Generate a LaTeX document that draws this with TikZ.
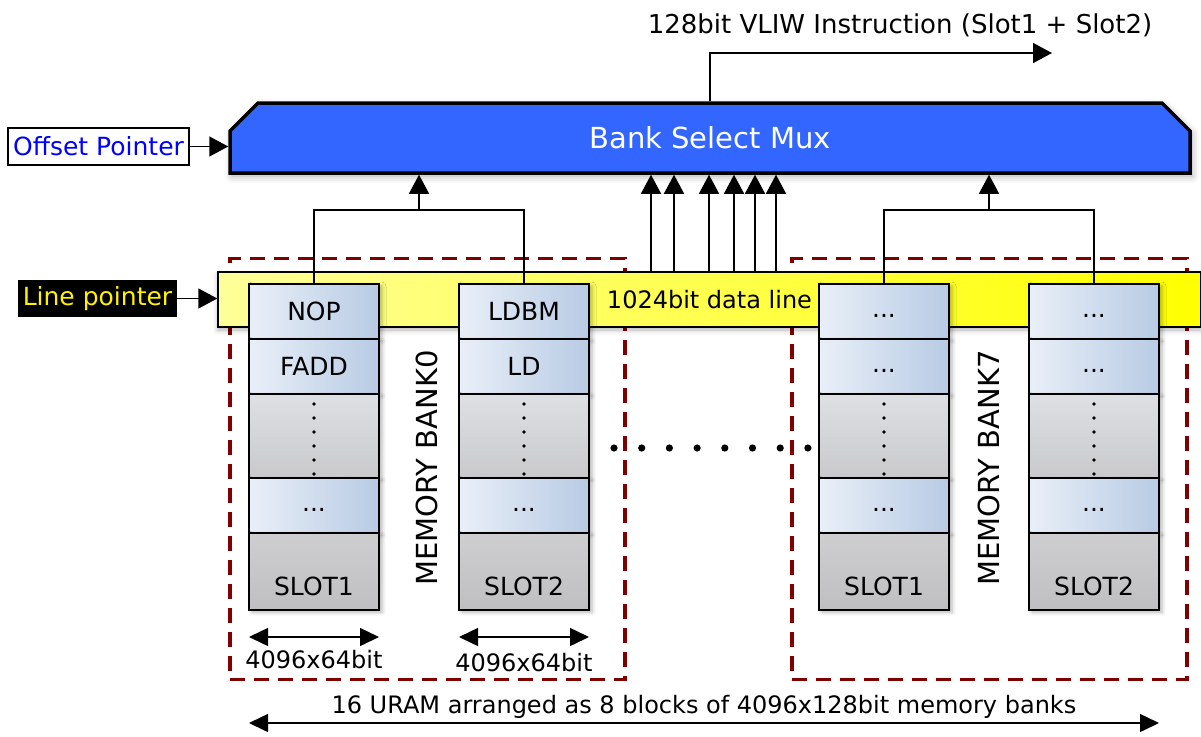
\documentclass[tikz,border=0pt]{standalone}
\usepackage{fontspec}
\setmainfont{DejaVu Sans}
\usetikzlibrary{shapes.misc, arrows.meta, positioning, shadows.blur, calc}

\definecolor{muxblue}{HTML}{3366FF}
\definecolor{cellleft}{HTML}{E9EFF8}
\definecolor{cellright}{HTML}{B8CBE4}
\definecolor{gaptop}{HTML}{DDE0E4}
\definecolor{gapbottom}{HTML}{C9C9CB}
\definecolor{bankred}{HTML}{800000}
\definecolor{lightyellow}{HTML}{FFFF99}

\tikzstyle{mux} = [
    chamfered rectangle,
    chamfered rectangle corners={north west, north east},
    chamfered rectangle sep=14pt,
    minimum width=960pt,
    minimum height=70pt,
    draw=black,
    line width=3.5pt,
    fill=muxblue,
    text=white,
    font=\fontsize{29}{34}\selectfont,
    blur shadow={shadow xshift=2pt, shadow yshift=-3pt, shadow blur radius=7pt, shadow opacity=35}
]
\tikzstyle{offsetbox} = [
    rectangle,
    minimum width=181pt,
    minimum height=37pt,
    inner sep=0pt,
    draw=black,
    line width=1.4pt,
    fill=white,
    text=blue,
    font=\fontsize{25}{30}\selectfont
]
\tikzstyle{linebox} = [
    rectangle,
    minimum width=159pt,
    minimum height=37pt,
    inner sep=0pt,
    fill=black,
    text=yellow,
    font=\fontsize{25}{30}\selectfont
]
\tikzstyle{dataline} = [
    rectangle,
    minimum width=983pt,
    minimum height=55pt,
    draw=black,
    line width=1.4pt,
    left color=lightyellow,
    right color=yellow,
    font=\fontsize{24}{29}\selectfont,
    blur shadow={shadow xshift=0pt, shadow yshift=-3pt, shadow blur radius=5pt, shadow opacity=30}
]
\tikzstyle{cell} = [
    rectangle,
    minimum width=130pt,
    minimum height=55pt,
    inner sep=0pt,
    outer sep=0pt,
    draw=black,
    line width=1.5pt,
    left color=cellleft,
    right color=cellright,
    font=\fontsize{25}{30}\selectfont,
    blur shadow={shadow xshift=3pt, shadow yshift=-2pt, shadow blur radius=4pt, shadow opacity=30}
]
\tikzstyle{morecell} = [cell, text height=12pt, text depth=0pt]
\tikzstyle{gapcell} = [
    cell,
    minimum height=84pt,
    top color=gaptop,
    bottom color=gapbottom
]
\tikzstyle{slotcell} = [
    gapcell,
    minimum height=77pt,
    top color=gapbottom!90!white,
    bottom color=gapbottom!95!black,
    text height=47pt,
    text depth=0pt
]
\tikzstyle{bankbox} = [
    rectangle,
    minimum width=395pt,
    minimum height=421pt,
    draw=bankred,
    line width=3.5pt,
    dash pattern=on 15pt off 9pt
]
\tikzstyle{banklabel} = [rotate=90, font=\fontsize{29}{34}\selectfont]
\tikzstyle{plain} = [font=\fontsize{24}{29}\selectfont]
\tikzstyle{arrow} = [line width=1.5pt,-{Triangle[length=19pt,width=20pt]}]
\tikzstyle{dimarrow} = [line width=1.5pt,{Triangle[length=19pt,width=18pt]}-{Triangle[length=19pt,width=18pt]}]
\tikzstyle{wire} = [line width=1.5pt]

\begin{document}
\begin{tikzpicture}[x=1pt, y=-1pt]

\useasboundingbox (0,0) rectangle (1201,736);

% memory bank frames
\node (bank0) [bankbox] at (427.5,469) {};
\node (bank7) [bankbox] at (989.5,469) {};

\node (dataline) [dataline] at (709.5,299.5) {1024bit data line};

% bank 0
\node (nop0) [cell] at (314,311.5) {NOP};
\node (fadd0) [cell, below=0pt of nop0] {FADD};
\node (gapA0) [gapcell, below=0pt of fadd0] {};
\node (moreA0) [morecell, below=0pt of gapA0] {...};
\node (slotA0) [slotcell, below=0pt of moreA0] {SLOT1};

\node (ldbm0) [cell] at (524,311.5) {LDBM};
\node (ld0) [cell, below=0pt of ldbm0] {LD};
\node (gapB0) [gapcell, below=0pt of ld0] {};
\node (moreB0) [morecell, below=0pt of gapB0] {...};
\node (slotB0) [slotcell, below=0pt of moreB0] {SLOT2};

% bank 7
\node (topA7) [morecell] at (884,311.5) {...};
\node (secA7) [morecell, below=0pt of topA7] {...};
\node (gapA7) [gapcell, below=0pt of secA7] {};
\node (moreA7) [morecell, below=0pt of gapA7] {...};
\node (slotA7) [slotcell, below=0pt of moreA7] {SLOT1};

\node (topB7) [morecell] at (1094,311.5) {...};
\node (secB7) [morecell, below=0pt of topB7] {...};
\node (gapB7) [gapcell, below=0pt of secB7] {};
\node (moreB7) [morecell, below=0pt of gapB7] {...};
\node (slotB7) [slotcell, below=0pt of moreB7] {SLOT2};

% vertical dots in the gaps
\foreach \g in {gapA0, gapB0, gapA7, gapB7}
    \foreach \k in {0,...,5}
        \fill ($(\g.north)+(0,10+14*\k)$) circle (1.9pt);

% dots between the banks
\foreach \k in {0,...,7}
    \fill ({614+27.7*\k},448) circle (3.6pt);

\node (bank0label) [banklabel] at (427,468) {MEMORY BANK0};
\node (bank7label) [banklabel] at (989,468) {MEMORY BANK7};

\node (mux) [mux] at (710,138) {Bank Select Mux};

\node (offset) [offsetbox] at (98.5,146.5) {Offset Pointer};
\node (linept) [linebox] at (97.5,298.5) {Line pointer};

\node (title) [plain, font=\fontsize{26}{31}\selectfont] at (900,25)
{128bit VLIW Instruction (Slot1 + Slot2)};
\coordinate (outtip) at (1052,53);

% slot outputs joined per bank
\coordinate (join0) at ($(nop0.north)!0.5!(ldbm0.north)+(0,-74)$);
\coordinate (join7) at ($(topA7.north)!0.5!(topB7.north)+(0,-74)$);
\draw [wire] (nop0.north) |- (join0) -| (ldbm0.north);
\draw [wire] (topA7.north) |- (join7) -| (topB7.north);
\draw [arrow] (join0) -- (join0 |- mux.south);
\draw [arrow] (join7) -- (join7 |- mux.south);

\foreach \x in {651,674,709,734,755,776}
    \draw [arrow] (dataline.north -| \x,0) -- (mux.south -| \x,0);

\draw [arrow] (offset.east) -- (offset.east -| mux.west);
\draw [arrow] (linept.east) -- (linept.east -| dataline.west);
\draw [arrow] (mux.north) |- (outtip);

% widths
\draw [dimarrow] ([yshift=-27pt]slotA0.south west) -- ([yshift=-27pt]slotA0.south east)
    node [plain, midway, below=9pt] {4096x64bit};
\draw [dimarrow] ([yshift=-27pt]slotB0.south west) -- ([yshift=-27pt]slotB0.south east)
    node [plain, midway, below=12pt] {4096x64bit};
\draw [dimarrow] ([yshift=-113pt]slotA0.south west) -- ([yshift=-113pt]slotB7.south east)
    node [plain, midway, above=0pt] {16 URAM arranged as 8 blocks of 4096x128bit memory banks};

\end{tikzpicture}
\end{document}
